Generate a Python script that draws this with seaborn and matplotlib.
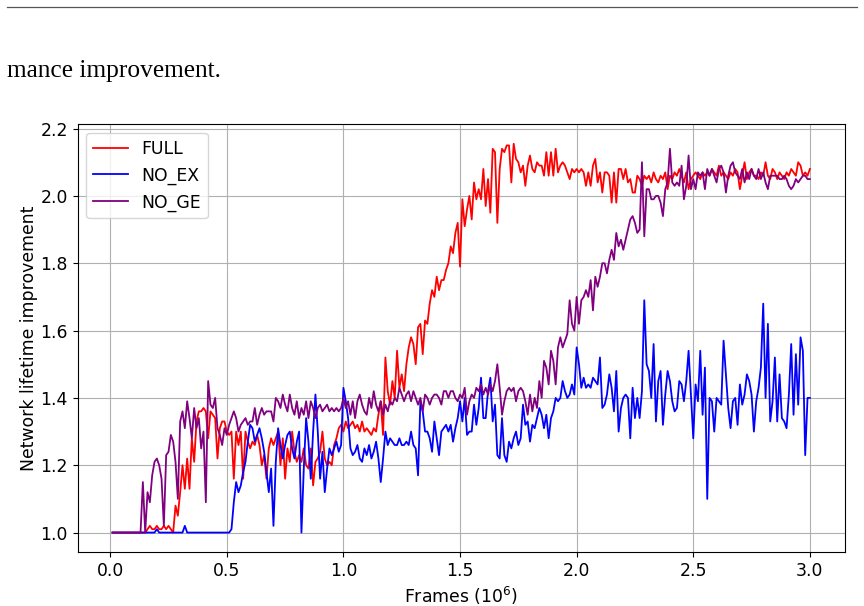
import numpy as np
import pandas as pd
import matplotlib
matplotlib.use("Agg")
import matplotlib.pyplot as plt
from matplotlib.lines import Line2D
import seaborn as sns

# ---------- data ----------
frames = np.round(np.arange(1, 301) / 100.0, 2)   # 0.01 .. 3.00 (x 10^6)

full = [
    1.00, 1.00, 1.00, 1.00, 1.00, 1.00, 1.00, 1.00, 1.00, 1.00,
    1.00, 1.00, 1.00, 1.00, 1.00, 1.01, 1.02, 1.01, 1.01, 1.02,
    1.01, 1.01, 1.02, 1.01, 1.02, 1.01, 1.00, 1.08, 1.05, 1.12,
    1.20, 1.13, 1.22, 1.13, 1.28, 1.21, 1.33, 1.36, 1.36, 1.37,
    1.36, 1.28, 1.36, 1.35, 1.34, 1.22, 1.31, 1.33, 1.33, 1.30,
    1.29, 1.30, 1.16, 1.30, 1.26, 1.30, 1.16, 1.30, 1.27, 1.25,
    1.27, 1.26, 1.29, 1.26, 1.20, 1.23, 1.16, 1.25, 1.28, 1.26,
    1.28, 1.30, 1.20, 1.28, 1.16, 1.25, 1.21, 1.30, 1.24, 1.21,
    1.23, 1.21, 1.25, 1.20, 1.19, 1.25, 1.14, 1.21, 1.22, 1.24,
    1.30, 1.22, 1.20, 1.21, 1.20, 1.26, 1.28, 1.31, 1.32, 1.30,
    1.33, 1.31, 1.32, 1.33, 1.31, 1.32, 1.30, 1.33, 1.30, 1.31,
    1.30, 1.29, 1.31, 1.30, 1.35, 1.39, 1.29, 1.52, 1.42, 1.38,
    1.45, 1.40, 1.54, 1.43, 1.47, 1.42, 1.50, 1.55, 1.58, 1.56,
    1.50, 1.61, 1.62, 1.53, 1.63, 1.62, 1.68, 1.72, 1.70, 1.76,
    1.72, 1.75, 1.75, 1.78, 1.80, 1.85, 1.83, 1.89, 1.92, 1.79,
    1.99, 1.91, 1.96, 2.00, 1.93, 2.04, 1.99, 2.02, 1.99, 2.08,
    1.97, 2.05, 1.95, 2.14, 2.13, 1.92, 2.08, 2.14, 2.13, 2.15,
    2.15, 2.04, 2.155, 2.11, 2.10, 2.07, 2.09, 2.03, 2.09, 2.12,
    2.08, 2.07, 2.10, 2.09, 2.09, 2.06, 2.13, 2.06, 2.13, 2.06,
    2.14, 2.07, 2.09, 2.10, 2.09, 2.07, 2.05, 2.08, 2.07, 2.08,
    2.07, 2.08, 2.07, 2.03, 2.07, 2.03, 2.09, 2.11, 2.04, 2.07,
    2.01, 2.07, 2.07, 2.06, 1.98, 2.07, 1.98, 2.08, 2.08, 2.05,
    2.08, 2.04, 2.05, 2.01, 2.01, 2.06, 2.05, 2.03, 2.06, 2.05,
    2.06, 2.04, 2.07, 2.05, 2.04, 2.06, 2.05, 2.07, 2.02, 2.06,
    2.05, 2.07, 2.06, 2.08, 2.06, 2.04, 2.07, 2.02, 2.05, 2.06,
    2.07, 2.06, 2.05, 2.07, 2.06, 2.07, 2.06, 2.08, 2.07, 2.06,
    2.09, 2.06, 2.07, 2.06, 2.05, 2.07, 2.06, 2.08, 2.07, 2.02,
    2.06, 2.10, 2.05, 2.07, 2.08, 2.06, 2.06, 2.05, 2.07, 2.06,
    2.10, 2.06, 2.05, 2.08, 2.07, 2.05, 2.07, 2.06, 2.05, 2.07,
    2.06, 2.08, 2.07, 2.06, 2.10, 2.09, 2.06, 2.07, 2.06, 2.08,
]

no_ex = [
    1.00, 1.00, 1.00, 1.00, 1.00, 1.00, 1.00, 1.00, 1.00, 1.00,
    1.00, 1.00, 1.00, 1.00, 1.00, 1.00, 1.00, 1.00, 1.00, 1.01,
    1.00, 1.00, 1.00, 1.00, 1.00, 1.00, 1.00, 1.00, 1.00, 1.00,
    1.00, 1.02, 1.00, 1.00, 1.00, 1.00, 1.00, 1.00, 1.00, 1.00,
    1.00, 1.00, 1.00, 1.00, 1.00, 1.00, 1.00, 1.00, 1.00, 1.00,
    1.00, 1.01, 1.09, 1.15, 1.12, 1.14, 1.18, 1.21, 1.27, 1.32,
    1.31, 1.27, 1.29, 1.31, 1.28, 1.24, 1.18, 1.12, 1.19, 1.02,
    1.21, 1.31, 1.26, 1.22, 1.26, 1.29, 1.30, 1.25, 1.22, 1.27,
    1.30, 1.00, 1.19, 1.34, 1.27, 1.16, 1.30, 1.41, 1.30, 1.16,
    1.24, 1.12, 1.19, 1.25, 1.23, 1.25, 1.27, 1.24, 1.26, 1.43,
    1.39, 1.34, 1.25, 1.23, 1.24, 1.26, 1.22, 1.21, 1.25, 1.23,
    1.26, 1.22, 1.24, 1.27, 1.22, 1.15, 1.22, 1.30, 1.26, 1.28,
    1.27, 1.26, 1.26, 1.28, 1.26, 1.26, 1.27, 1.26, 1.30, 1.26,
    1.25, 1.17, 1.39, 1.36, 1.30, 1.30, 1.28, 1.24, 1.33, 1.28,
    1.23, 1.30, 1.31, 1.32, 1.30, 1.32, 1.27, 1.31, 1.34, 1.39,
    1.33, 1.40, 1.29, 1.30, 1.30, 1.38, 1.32, 1.37, 1.46, 1.34,
    1.34, 1.42, 1.46, 1.33, 1.38, 1.23, 1.22, 1.34, 1.23, 1.21,
    1.27, 1.25, 1.28, 1.30, 1.26, 1.28, 1.38, 1.32, 1.33, 1.27,
    1.32, 1.31, 1.34, 1.37, 1.35, 1.31, 1.35, 1.28, 1.34, 1.36,
    1.40, 1.39, 1.40, 1.45, 1.42, 1.40, 1.41, 1.44, 1.41, 1.55,
    1.50, 1.43, 1.46, 1.43, 1.44, 1.43, 1.46, 1.45, 1.44, 1.52,
    1.37, 1.38, 1.41, 1.47, 1.43, 1.36, 1.48, 1.30, 1.37, 1.40,
    1.41, 1.40, 1.28, 1.43, 1.34, 1.40, 1.34, 1.42, 1.69, 1.50,
    1.48, 1.40, 1.56, 1.33, 1.45, 1.48, 1.32, 1.41, 1.48, 1.45,
    1.39, 1.36, 1.37, 1.45, 1.44, 1.39, 1.45, 1.54, 1.41, 1.28,
    1.44, 1.39, 1.54, 1.35, 1.49, 1.10, 1.40, 1.39, 1.30, 1.40,
    1.39, 1.38, 1.57, 1.47, 1.37, 1.31, 1.39, 1.40, 1.32, 1.44,
    1.38, 1.41, 1.47, 1.45, 1.41, 1.30, 1.39, 1.43, 1.49, 1.68,
    1.40, 1.62, 1.33, 1.39, 1.52, 1.33, 1.47, 1.34, 1.33, 1.31,
    1.41, 1.56, 1.35, 1.53, 1.38, 1.58, 1.54, 1.23, 1.40, 1.40,
]

no_ge = [
    1.00, 1.00, 1.00, 1.00, 1.00, 1.00, 1.00, 1.00, 1.00, 1.00,
    1.00, 1.00, 1.00, 1.15, 1.00, 1.12, 1.09, 1.17, 1.21, 1.22,
    1.20, 1.16, 1.02, 1.23, 1.24, 1.29, 1.27, 1.21, 1.10, 1.33,
    1.36, 1.31, 1.39, 1.34, 1.28, 1.37, 1.31, 1.34, 1.25, 1.30,
    1.09, 1.45, 1.38, 1.37, 1.40, 1.31, 1.29, 1.26, 1.31, 1.29,
    1.32, 1.34, 1.36, 1.34, 1.30, 1.32, 1.33, 1.34, 1.32, 1.33,
    1.33, 1.37, 1.32, 1.35, 1.37, 1.35, 1.36, 1.36, 1.36, 1.33,
    1.40, 1.39, 1.37, 1.41, 1.38, 1.36, 1.41, 1.37, 1.35, 1.39,
    1.34, 1.37, 1.35, 1.39, 1.34, 1.39, 1.37, 1.34, 1.37, 1.38,
    1.36, 1.37, 1.38, 1.36, 1.37, 1.36, 1.37, 1.36, 1.37, 1.40,
    1.37, 1.39, 1.35, 1.39, 1.34, 1.39, 1.41, 1.38, 1.36, 1.35,
    1.40, 1.37, 1.42, 1.38, 1.36, 1.39, 1.35, 1.38, 1.36, 1.39,
    1.38, 1.40, 1.39, 1.43, 1.41, 1.39, 1.41, 1.42, 1.39, 1.42,
    1.40, 1.38, 1.40, 1.36, 1.41, 1.40, 1.38, 1.40, 1.41, 1.41,
    1.40, 1.38, 1.42, 1.42, 1.40, 1.42, 1.42, 1.40, 1.39, 1.41,
    1.40, 1.43, 1.35, 1.39, 1.41, 1.40, 1.43, 1.42, 1.44, 1.41,
    1.43, 1.41, 1.44, 1.42, 1.45, 1.50, 1.43, 1.35, 1.39, 1.42,
    1.43, 1.42, 1.43, 1.39, 1.42, 1.43, 1.42, 1.39, 1.35, 1.41,
    1.36, 1.40, 1.37, 1.45, 1.40, 1.51, 1.49, 1.44, 1.54, 1.51,
    1.44, 1.55, 1.58, 1.55, 1.57, 1.59, 1.69, 1.62, 1.60, 1.70,
    1.62, 1.69, 1.70, 1.72, 1.70, 1.75, 1.66, 1.76, 1.73, 1.76,
    1.80, 1.80, 1.77, 1.81, 1.84, 1.81, 1.89, 1.85, 1.87, 1.84,
    1.87, 1.90, 1.93, 1.94, 1.92, 1.89, 1.90, 2.10, 1.88, 2.02,
    2.02, 1.99, 1.99, 2.00, 2.00, 1.98, 1.94, 2.02, 2.04, 2.14,
    2.04, 2.03, 2.04, 2.03, 2.09, 1.99, 2.03, 2.12, 2.02, 2.05,
    2.02, 2.07, 2.06, 2.07, 2.02, 2.08, 2.06, 2.08, 2.06, 2.04,
    2.08, 2.09, 2.07, 2.01, 2.06, 2.09, 2.10, 2.07, 2.06, 2.05,
    2.08, 2.04, 2.07, 2.05, 2.08, 2.06, 2.05, 2.08, 2.05, 2.07,
    2.04, 2.02, 2.06, 2.06, 2.06, 2.06, 2.05, 2.05, 2.06, 2.05,
    2.03, 2.02, 2.03, 2.05, 2.04, 2.05, 2.06, 2.06, 2.05, 2.05,
]

series_names = ["FULL", "NO_EX", "NO_GE"]
series_colors = ["red", "blue", "purple"]

df = pd.DataFrame({
    "frames": np.tile(frames, 3),
    "value": np.concatenate([full, no_ex, no_ge]),
    "variant": np.repeat(series_names, len(frames)),
})

# ---------- figure ----------
FS = 12.4
plt.rcParams["font.family"] = ["DejaVu Sans"]
plt.rcParams["font.size"] = FS

fig = plt.figure(figsize=(8.64, 6.06), dpi=100)
ax = fig.add_axes([0.0899, 0.0891, 0.8878, 0.7058])

for name, col in zip(series_names, series_colors):
    sub = df[df.variant == name]
    sns.lineplot(data=sub, x="frames", y="value", color=col, label=name,
                 linewidth=1.3, estimator=None, sort=False, ax=ax)

ax.grid(True, color="#b0b0b0", linewidth=0.8)
ax.set_axisbelow(True)
ax.set_xticks([0.0, 0.5, 1.0, 1.5, 2.0, 2.5, 3.0])
ax.set_yticks([1.0, 1.2, 1.4, 1.6, 1.8, 2.0, 2.2])
ax.tick_params(labelsize=FS)
ax.set_xlabel("Frames ($10^6$)", fontsize=FS)
ax.set_ylabel("Network lifetime improvement", fontsize=FS, labelpad=2)
ax.legend(loc="upper left", fontsize=FS)

# paper context around the figure
fig.add_artist(Line2D([7 / 864, 857 / 864], [0.989, 0.989],
                      color="#555555", linewidth=0.9))
fig.text(7 / 864, 1 - 77 / 606, "mance improvement.",
         family=["Liberation Serif", "DejaVu Serif"], fontsize=18.3,
         va="baseline", ha="left")

fig.savefig("out.png", dpi=100)
